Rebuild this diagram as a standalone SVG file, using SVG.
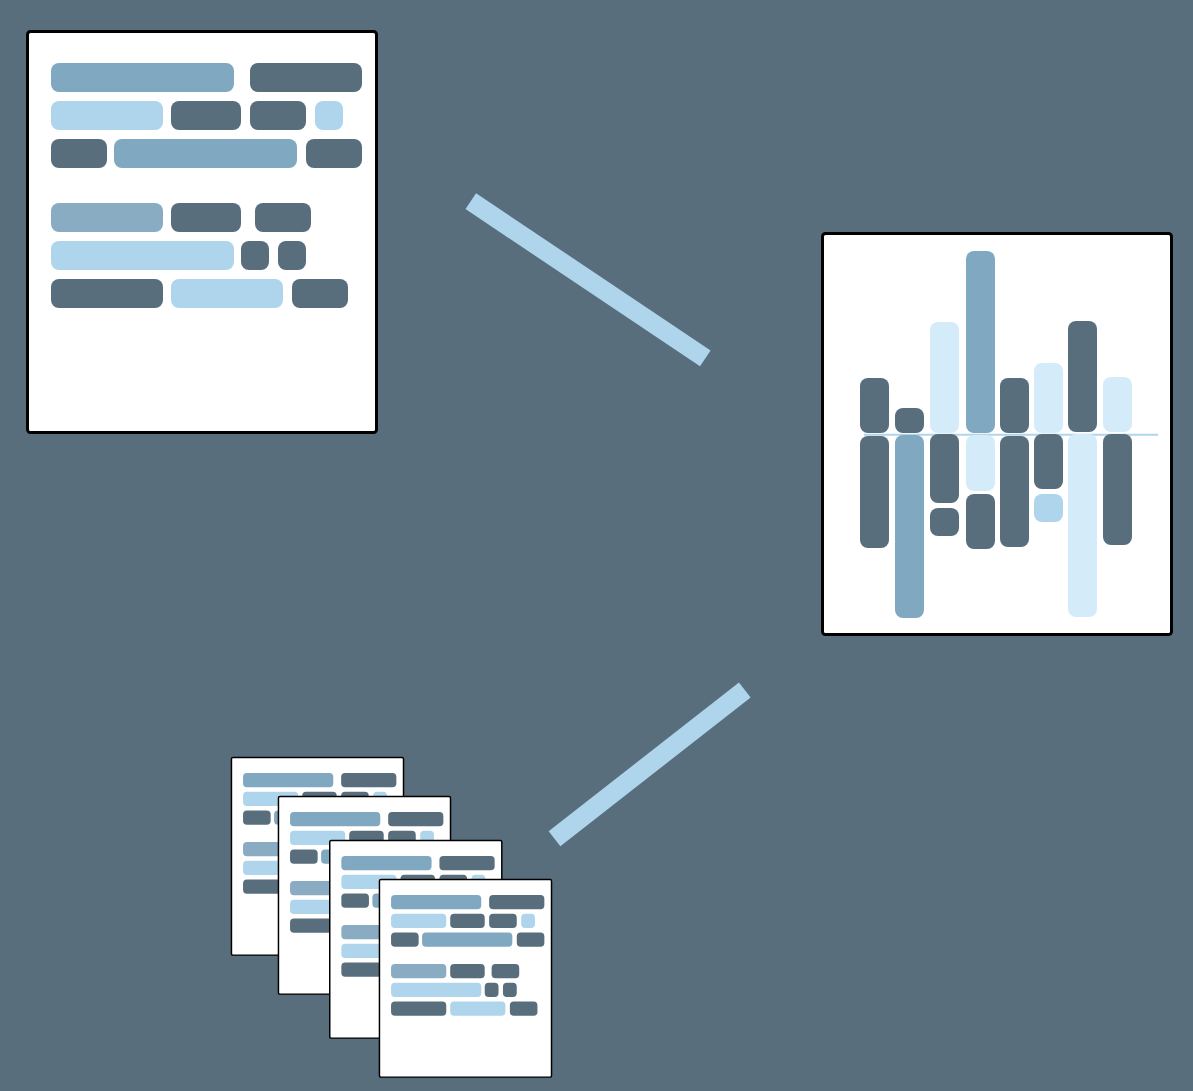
<svg xmlns="http://www.w3.org/2000/svg" xmlns:xlink="http://www.w3.org/1999/xlink" width="1193" height="1091" viewBox="0 0 1193 1091">
<style>
.bg{fill:#586e7d}
.sheet{fill:#ffffff;stroke:#000000;stroke-width:3}
.d{fill:#586e7d}
.s{fill:#80a8c1}
.g{fill:#8aacc3}
.l{fill:#afd5ed}
.v{fill:#d4ebf9}
.conn{stroke:#afd5ed;stroke-width:19;fill:none}
.axis{stroke:#afd5ed;stroke-width:2}
</style>
<defs>
<g id="doc">
<rect class="sheet" x="27.5" y="31.5" width="349" height="401" rx="3"/>
<rect class="s" x="51" y="63" width="183" height="29" rx="8"/>
<rect class="d" x="250" y="63" width="112" height="29" rx="8"/>
<rect class="l" x="51" y="101" width="112" height="29" rx="8"/>
<rect class="d" x="171" y="101" width="70" height="29" rx="8"/>
<rect class="d" x="250" y="101" width="56" height="29" rx="8"/>
<rect class="l" x="315" y="101" width="28" height="29" rx="8"/>
<rect class="d" x="51" y="139" width="56" height="29" rx="8"/>
<rect class="s" x="114" y="139" width="183" height="29" rx="8"/>
<rect class="d" x="306" y="139" width="56" height="29" rx="8"/>
<rect class="g" x="51" y="203" width="112" height="29" rx="8"/>
<rect class="d" x="171" y="203" width="70" height="29" rx="8"/>
<rect class="d" x="255" y="203" width="56" height="29" rx="8"/>
<rect class="l" x="51" y="241" width="183" height="29" rx="8"/>
<rect class="d" x="241" y="241" width="28" height="29" rx="8"/>
<rect class="d" x="278" y="241" width="28" height="29" rx="8"/>
<rect class="d" x="51" y="279" width="112" height="29" rx="8"/>
<rect class="l" x="171" y="279" width="112" height="29" rx="8"/>
<rect class="d" x="292" y="279" width="56" height="29" rx="8"/>
</g>
</defs>
<rect class="bg" x="0" y="0" width="1193" height="1091"/>
<g id="connectors">
<line class="conn" x1="470.8" y1="201.2" x2="705.3" y2="358.3"/>
<line class="conn" x1="744.8" y1="690" x2="554.5" y2="838.7"/>
</g>
<g id="source-document">
<use xlink:href="#doc" href="#doc"/>
</g>
<g id="chart">
<rect class="sheet" x="822.5" y="233.5" width="349" height="401" rx="3"/>
<line class="axis" x1="864" y1="434.7" x2="1158" y2="434.7"/>
<rect class="d" x="860" y="378" width="29" height="55" rx="8"/>
<rect class="d" x="860" y="436" width="29" height="112" rx="8"/>
<rect class="d" x="895" y="408" width="29" height="25" rx="8"/>
<rect class="s" x="895" y="435" width="29" height="183" rx="8"/>
<rect class="v" x="930" y="322" width="29" height="111" rx="8"/>
<rect class="d" x="930" y="434" width="29" height="69" rx="8"/>
<rect class="d" x="930" y="508" width="29" height="28" rx="8"/>
<rect class="s" x="966" y="251" width="29" height="182" rx="8"/>
<rect class="v" x="966" y="435" width="29" height="56" rx="8"/>
<rect class="d" x="966" y="494" width="29" height="55" rx="8"/>
<rect class="d" x="1000" y="378" width="29" height="55" rx="8"/>
<rect class="d" x="1000" y="436" width="29" height="111" rx="8"/>
<rect class="v" x="1034" y="363" width="29" height="70" rx="8"/>
<rect class="d" x="1034" y="434" width="29" height="55" rx="8"/>
<rect class="l" x="1034" y="494" width="29" height="28" rx="8"/>
<rect class="d" x="1068" y="321" width="29" height="111" rx="8"/>
<rect class="v" x="1068" y="434" width="29" height="183" rx="8"/>
<rect class="v" x="1103" y="377" width="29" height="55" rx="8"/>
<rect class="d" x="1103" y="434" width="29" height="111" rx="8"/>
</g>
<g id="document-stack">
<use xlink:href="#doc" href="#doc" transform="translate(217.9,741.9) scale(0.493)"/>
<use xlink:href="#doc" href="#doc" transform="translate(264.9,780.9) scale(0.493)"/>
<use xlink:href="#doc" href="#doc" transform="translate(316.2,824.9) scale(0.493)"/>
<use xlink:href="#doc" href="#doc" transform="translate(365.9,863.9) scale(0.493)"/>
</g>
</svg>
